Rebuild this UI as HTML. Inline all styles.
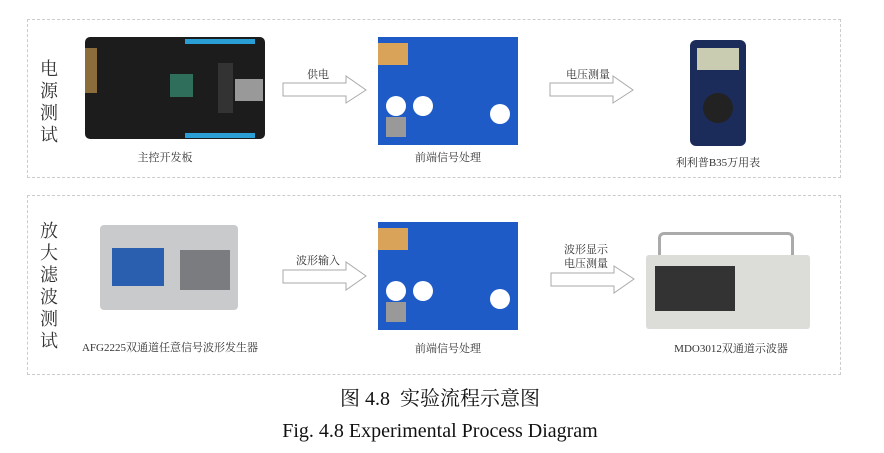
<!DOCTYPE html>
<html><head><meta charset="utf-8"><style>
body{margin:0;width:884px;height:453px;background:#fff;position:relative;overflow:hidden;font-family:"Liberation Serif","Noto Serif CJK SC",serif;color:#333}
.a{position:absolute}
.box{position:absolute;border:1px dashed #ccc}
.lbl{position:absolute;font-size:11px;white-space:nowrap;transform:translateX(-50%)}
.side{position:absolute;font-size:18px;line-height:22px;width:20px;color:#333}
</style></head><body>
<div class="box" style="left:27px;top:19px;width:812px;height:157px"></div>
<div class="box" style="left:27px;top:195px;width:812px;height:178px"></div>
<div class="side" style="left:40px;top:58px">电源测试</div>
<div class="side" style="left:40px;top:220px">放大滤波测试</div>

<!-- FPGA board -->
<div class="a" style="left:85px;top:37px;width:180px;height:102px;background:#1c1c1c;border-radius:5px"></div>
<div class="a" style="left:185px;top:39px;width:70px;height:5px;background:#2a9fd6"></div>
<div class="a" style="left:185px;top:133px;width:70px;height:5px;background:#2a9fd6"></div>
<div class="a" style="left:170px;top:74px;width:23px;height:23px;background:#2f6e5a"></div>
<div class="a" style="left:85px;top:48px;width:12px;height:45px;background:#8a6d3b"></div>
<div class="a" style="left:235px;top:79px;width:28px;height:22px;background:#999"></div>
<div class="a" style="left:218px;top:63px;width:15px;height:50px;background:#333"></div>

<!-- PCB top -->
<div class="a" style="left:378px;top:37px;width:140px;height:108px;background:#1e5bc6"></div>
<div class="a" style="left:378px;top:43px;width:30px;height:22px;background:#d9a35a"></div>
<div class="a" style="left:386px;top:96px;width:20px;height:20px;background:#fff;border-radius:50%"></div>
<div class="a" style="left:413px;top:96px;width:20px;height:20px;background:#fff;border-radius:50%"></div>
<div class="a" style="left:490px;top:104px;width:20px;height:20px;background:#fff;border-radius:50%"></div>
<div class="a" style="left:386px;top:117px;width:20px;height:20px;background:#999"></div>

<!-- Multimeter -->
<div class="a" style="left:690px;top:40px;width:56px;height:106px;background:#1c2c5a;border-radius:6px"></div>
<div class="a" style="left:697px;top:48px;width:42px;height:22px;background:#c9ccb0"></div>
<div class="a" style="left:703px;top:93px;width:30px;height:30px;background:#222;border-radius:50%"></div>

<!-- Signal generator -->
<div class="a" style="left:100px;top:225px;width:138px;height:85px;background:#c8cacc;border-radius:4px"></div>
<div class="a" style="left:112px;top:248px;width:52px;height:38px;background:#2a5fb0"></div>
<div class="a" style="left:180px;top:250px;width:50px;height:40px;background:#7a7c80"></div>

<!-- PCB bottom -->
<div class="a" style="left:378px;top:222px;width:140px;height:108px;background:#1e5bc6"></div>
<div class="a" style="left:378px;top:228px;width:30px;height:22px;background:#d9a35a"></div>
<div class="a" style="left:386px;top:281px;width:20px;height:20px;background:#fff;border-radius:50%"></div>
<div class="a" style="left:413px;top:281px;width:20px;height:20px;background:#fff;border-radius:50%"></div>
<div class="a" style="left:490px;top:289px;width:20px;height:20px;background:#fff;border-radius:50%"></div>
<div class="a" style="left:386px;top:302px;width:20px;height:20px;background:#999"></div>

<!-- Oscilloscope -->
<div class="a" style="left:658px;top:232px;width:130px;height:30px;border:3px solid #aaa;border-bottom:none;border-radius:6px 6px 0 0"></div>
<div class="a" style="left:646px;top:255px;width:164px;height:74px;background:#dcdcd8;border-radius:3px"></div>
<div class="a" style="left:655px;top:266px;width:80px;height:45px;background:#333"></div>

<svg class="a" style="left:0;top:0" width="884" height="453">
<g fill="#fff" stroke="#aaa" stroke-width="1">
<polygon points="283,83 346,83 346,76 366,90 346,103 346,96 283,96"/>
<polygon points="550,83 613,83 613,76 633,90 613,103 613,96 550,96"/>
<polygon points="283,270 346,270 346,262 366,276 346,290 346,283 283,283"/>
<polygon points="551,273 614,273 614,266 634,279 614,293 614,286 551,286"/>
</g></svg>

<div class="lbl" style="left:318px;top:66px">供电</div>
<div class="lbl" style="left:588px;top:66px">电压测量</div>
<div class="lbl" style="left:318px;top:252px">波形输入</div>
<div class="lbl" style="left:586px;top:243px;line-height:14px;text-align:center">波形显示<br>电压测量</div>

<div class="lbl" style="left:165px;top:149px">主控开发板</div>
<div class="lbl" style="left:448px;top:149px">前端信号处理</div>
<div class="lbl" style="left:718px;top:154px">利利普B35万用表</div>
<div class="lbl" style="left:170px;top:339px">AFG2225双通道任意信号波形发生器</div>
<div class="lbl" style="left:448px;top:340px">前端信号处理</div>
<div class="lbl" style="left:731px;top:340px">MDO3012双通道示波器</div>

<div class="lbl" style="left:440px;top:382px;font-size:20px;color:#111">图 4.8&nbsp; 实验流程示意图</div>
<div class="lbl" style="left:440px;top:420px;font-size:20px;color:#111">Fig. 4.8 Experimental Process Diagram</div>
</body></html>
